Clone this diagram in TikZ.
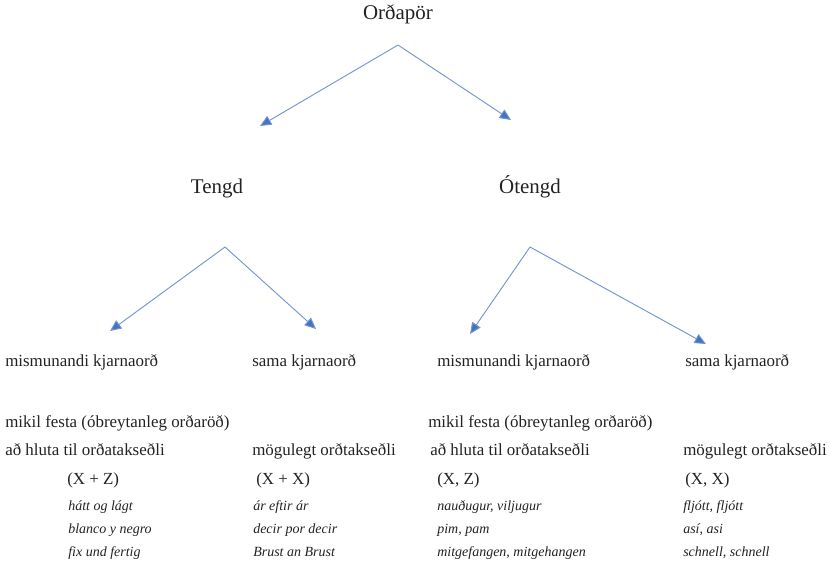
\documentclass[tikz,border=0pt]{standalone}
\usepackage{fontspec}
\setmainfont{Liberation Serif}
\usepackage{xcolor}
\usetikzlibrary{arrows.meta, positioning}
\definecolor{linkblue}{HTML}{4472C4}
\definecolor{inkgray}{HTML}{222222}
\tikzset{
  head/.style={anchor=base, inner sep=0pt, text=inkgray, font=\fontsize{15.7}{18}\selectfont},
  kind/.style={anchor=base west, inner sep=0pt, text=inkgray, font=\fontsize{12.7}{15}\selectfont},
  sample/.style={anchor=base west, inner sep=0pt, text=inkgray, font=\fontsize{10.5}{13}\selectfont\itshape},
  branch/.style={draw=linkblue!75, line width=0.7pt, -{Triangle[length=8.5pt,width=7.5pt,fill=linkblue]}, shorten >=0pt}
}

\begin{document}
\begin{tikzpicture}[x=0.75pt, y=-0.75pt]
\useasboundingbox (0,0) rectangle (830,564);

% Top level
\node[head] (pairs) at (398,19) {Orðapör};
\node[head] (linked) at (217,193) {Tengd};
\node[head] (unlinked) at (530,193) {Ótengd};

\coordinate (topfork) at (398,45);
\coordinate (linkedtip) at (260,126);
\coordinate (unlinkedtip) at (511,120);
\draw[branch] (topfork) -- (linkedtip);
\draw[branch] (topfork) -- (unlinkedtip);

% Tengd
\coordinate (leftfork) at (225,247);
\coordinate (ldifftip) at (110,331);
\coordinate (lsametip) at (316,329);
\draw[branch] (leftfork) -- (ldifftip);
\draw[branch] (leftfork) -- (lsametip);

\node[kind] (ldiff) at (5,366) {mismunandi kjarnaorð};
\node[kind] (lsame) at (252,366) {sama kjarnaorð};
\node[kind] (lfixed) at (5,427) {mikil festa (óbreytanleg orðaröð)};
\node[kind] (lpart) at (5,455) {að hluta til orðatakseðli};
\node[kind] (lposs) at (252,455) {mögulegt orðtakseðli};
\node[kind] (lxz) at (67,484) {(X + Z)};
\node[kind] (lxx) at (256,484) {(X + X)};
\node[sample] (la1) at (68,510) {hátt og lágt};
\node[sample] (la2) at (68,533) {blanco y negro};
\node[sample] (la3) at (68,556) {fix und fertig};
\node[sample] (lb1) at (253,510) {ár eftir ár};
\node[sample] (lb2) at (253,533) {decir por decir};
\node[sample] (lb3) at (253,556) {Brust an Brust};

% Ótengd
\coordinate (rightfork) at (530,247);
\coordinate (rdifftip) at (470,334);
\coordinate (rsametip) at (706,344);
\draw[branch] (rightfork) -- (rdifftip);
\draw[branch] (rightfork) -- (rsametip);

\node[kind] (rdiff) at (437,366) {mismunandi kjarnaorð};
\node[kind] (rsame) at (685,366) {sama kjarnaorð};
\node[kind] (rfixed) at (428,427) {mikil festa (óbreytanleg orðaröð)};
\node[kind] (rpart) at (430,455) {að hluta til orðatakseðli};
\node[kind] (rposs) at (683,455) {mögulegt orðtakseðli};
\node[kind] (rxz) at (437,484) {(X, Z)};
\node[kind] (rxx) at (685,484) {(X, X)};
\node[sample] (ra1) at (437,510) {nauðugur, viljugur};
\node[sample] (ra2) at (437,533) {pim, pam};
\node[sample] (ra3) at (437,556) {mitgefangen, mitgehangen};
\node[sample] (rb1) at (683,510) {fljótt, fljótt};
\node[sample] (rb2) at (683,533) {así, asi};
\node[sample] (rb3) at (683,556) {schnell, schnell};
\end{tikzpicture}
\end{document}
